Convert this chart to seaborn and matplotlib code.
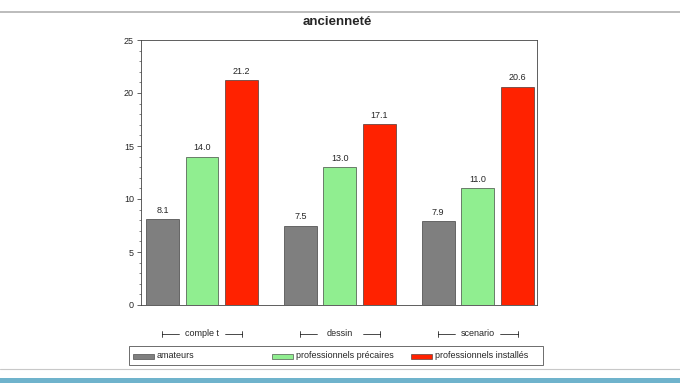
import numpy as np
import pandas as pd
import seaborn as sns
import matplotlib.pyplot as plt
from matplotlib.patches import Rectangle
from matplotlib.lines import Line2D
from matplotlib.ticker import MultipleLocator

## Data
groups = ["comple t", "dessin", "scenario"]
series = ["amateurs", "professionnels précaires", "professionnels installés"]
amateurs = [8.1, 7.5, 7.9]
precaires = [14.0, 13.0, 11.0]
installes = [21.2, 17.1, 20.6]
colors = ["#7f7f7f", "#90ee90", "#ff2200"]

df = pd.DataFrame({"groupe": groups * 3,
                   "serie": np.repeat(series, 3),
                   "valeur": amateurs + precaires + installes})

## Plot
sns.set_style("white")
plt.rcParams['font.family'] = ['Liberation Sans', 'DejaVu Sans']

fig = plt.figure(figsize=(6.8, 3.83), dpi=100)
ax = fig.add_axes([141/680, 1-305/383, 396/680, 265/383])

sns.barplot(df, x="groupe", y="valeur", hue="serie", palette=colors,
            saturation=1, width=0.86, gap=0.17, edgecolor="#222222",
            linewidth=0.4, legend=False, ax=ax)

for c in ax.containers:
    ax.bar_label(c, fmt="%.1f", padding=3, fontsize=6.5)

ax.set_xlim(-0.442, 2.43)
ax.set_ylim(0, 25)
ax.yaxis.set_major_locator(MultipleLocator(5))
ax.yaxis.set_minor_locator(MultipleLocator(1))
ax.tick_params(axis='y', which='major', direction='out', length=3, width=0.5, labelsize=6.5, pad=2, left=True)
ax.tick_params(axis='y', which='minor', direction='out', length=1.5, width=0.4, left=True)
ax.set_xticks([])
ax.set_xlabel("")
ax.set_ylabel("")
for s in ax.spines.values():
    s.set_linewidth(0.6)
    s.set_color("#444444")

# Group labels with brackets below axes
trans = ax.get_xaxis_transform()
yb = -29/265
for i, g in enumerate(groups):
    ax.text(i, yb, g, ha="center", va="center", fontsize=6.5, transform=trans)
    for side in (-1, 1):
        ax.plot([i + side*0.29, i + side*0.165], [yb, yb], color="black", lw=0.5,
                transform=trans, clip_on=False)
        ax.plot([i + side*0.29]*2, [yb-0.012, yb+0.012], color="black", lw=0.5,
                transform=trans, clip_on=False)

# Title
fig.text(337/680, 1-22/383, "ancienneté", ha="center", va="center",
         fontsize=9.5, fontweight="bold")

# Legend, drawn as a box with evenly spaced entries
fig.add_artist(Rectangle((129/680, 1-365/383), 414/680, 19/383,
                         transform=fig.transFigure, facecolor="white",
                         edgecolor="#555555", linewidth=0.6))
for k, (lab, c) in enumerate(zip(series, colors)):
    x0 = (133 + 139*k) / 680
    fig.add_artist(Rectangle((x0, 1-358.5/383), 21/680, 5/383,
                             transform=fig.transFigure, facecolor=c,
                             edgecolor="#333333", linewidth=0.4))
    fig.text(x0 + 24/680, 1-356/383, lab, ha="left", va="center", fontsize=6.5)

# Slide frame lines
fig.add_artist(Line2D([0, 1], [1-12/383, 1-12/383], color="#b0b0b0", lw=1.2))
fig.add_artist(Line2D([0, 1], [1-369/383, 1-369/383], color="#c8c8c8", lw=0.8))
fig.add_artist(Rectangle((0, 0), 1, 5/383, transform=fig.transFigure,
                         facecolor="#6fb3cc", edgecolor="none"))

plt.savefig("out.png", dpi=100)
